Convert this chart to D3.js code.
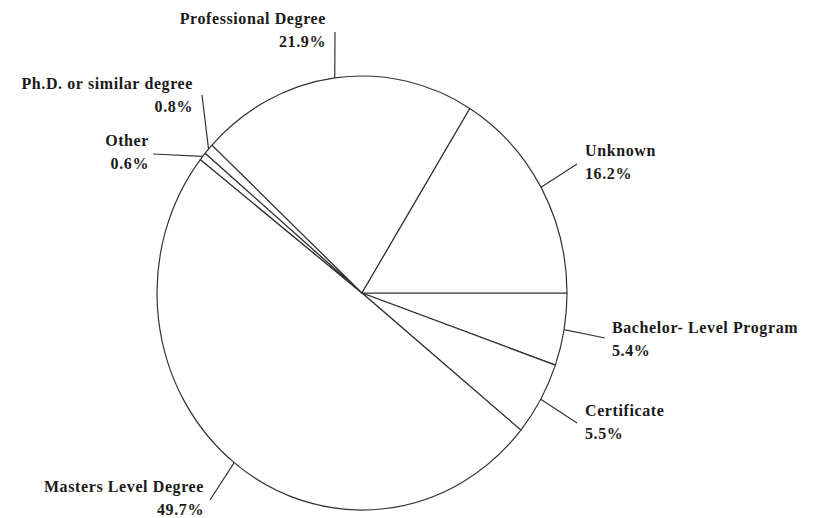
<!DOCTYPE html>
<html>

<head>
  <meta charset="UTF-8">
  <title>Degree types</title>
  <style>
    body { margin: 0; background: #fff; }
    text { font-family: "Times New Roman", "Liberation Serif", Times, "DejaVu Serif", serif; font-weight: bold; font-size: 16px; letter-spacing: 0.6px; fill: #1a1a1a; }
  </style>
</head>

<body>
  <script src="https://cdn.jsdelivr.net/npm/d3@7"></script>
  <script>
    const width = 813,
      height = 518

    // data, clockwise from 3 o'clock
    const categories = ['Bachelor- Level Program', 'Certificate', 'Masters Level Degree', 'Other',
      'Ph.D. or similar degree', 'Professional Degree', 'Unknown']
    const values = [5.4, 5.5, 49.7, 0.6, 0.8, 21.9, 16.2]

    // label placement: text anchor, x, first baseline, outer end of the leader
    const labelPos = [
      { anchor: 'start', x: 612, y: 333, lx: 605, ly: 338 },
      { anchor: 'start', x: 585, y: 416, lx: 577, ly: 423 },
      { anchor: 'end', x: 204, y: 492, lx: 210, ly: 500 },
      { anchor: 'end', x: 149, y: 146, lx: 153, ly: 154 },
      { anchor: 'end', x: 193, y: 89, lx: 202, ly: 95 },
      { anchor: 'end', x: 326, y: 24, lx: 335, ly: 32 },
      { anchor: 'start', x: 585, y: 156, lx: 577, ly: 164 }
    ]

    const cx = 362, cy = 293
    const rx = 205, ry = 217

    const svg = d3.select('body')
      .append('svg')
      .attr('width', width)
      .attr('height', height)

    const pie = d3.pie()
      .sort(null)
      .startAngle(Math.PI / 2)
      .endAngle(Math.PI / 2 + 2 * Math.PI)
      .value(d => d.value)

    const arcs = pie(categories.map((c, i) => ({ name: c, value: values[i], pos: labelPos[i] })))

    const arc = d3.arc().innerRadius(0).outerRadius(rx)

    // ellipse: draw on a circle then stretch vertically
    svg.append('g')
      .attr('transform', `translate(${cx},${cy}) scale(1,${ry / rx})`)
      .selectAll('path')
      .data(arcs).enter()
      .append('path')
      .attr('d', arc)
      .attr('fill', '#fff')
      .attr('stroke', '#333')
      .attr('stroke-width', 1.2)
      .attr('stroke-linejoin', 'round')
      .attr('vector-effect', 'non-scaling-stroke')

    const mid = d => (d.startAngle + d.endAngle) / 2

    svg.selectAll('line.leader')
      .data(arcs).enter()
      .append('line')
      .classed('leader', true)
      .attr('x1', d => cx + rx * Math.sin(mid(d)))
      .attr('y1', d => cy - ry * Math.cos(mid(d)))
      .attr('x2', d => d.data.pos.lx)
      .attr('y2', d => d.data.pos.ly)
      .attr('stroke', '#333')
      .attr('stroke-width', 1.2)

    const labels = svg.selectAll('text.label')
      .data(arcs).enter()
      .append('text')
      .classed('label', true)
      .attr('text-anchor', d => d.data.pos.anchor)

    labels.append('tspan')
      .attr('x', d => d.data.pos.x)
      .attr('y', d => d.data.pos.y)
      .text(d => d.data.name)

    labels.append('tspan')
      .attr('x', d => d.data.pos.x)
      .attr('y', d => d.data.pos.y + 23)
      .text(d => d3.format('.1f')(d.data.value) + '%')
  </script>
</body>

</html>
